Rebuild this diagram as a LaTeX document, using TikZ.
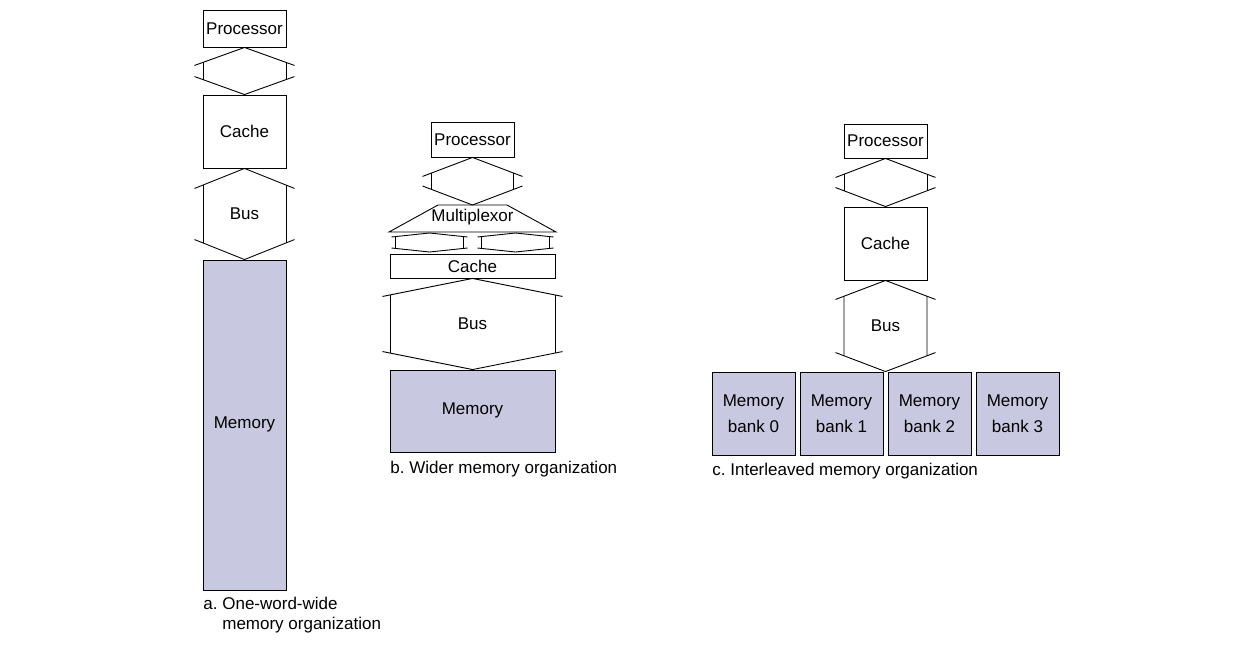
\documentclass[tikz,border=0pt]{standalone}
\usepackage{fontspec}
\setmainfont{Liberation Sans}
\usepackage{tikz}
\usetikzlibrary{calc}

\definecolor{memfill}{RGB}{200,200,225}

% wide double arrow: #1 top tip, #2 bottom tip, #3 half width, #4 half shaft, #5 drop
\newcommand{\busarrow}[5]{%
	\draw ($(#1)+(-#3,#5)$) -- (#1) -- ($(#1)+(#3,#5)$);
	\draw ($(#2)+(-#3,-#5)$) -- (#2) -- ($(#2)+(#3,-#5)$);
	\draw ($(#1)+({-#4},{#5*#4/#3})$) -- ($(#2)+({-#4},{-#5*#4/#3})$);
	\draw ($(#1)+({#4},{#5*#4/#3})$) -- ($(#2)+({#4},{-#5*#4/#3})$);
}

\begin{document}
\frenchspacing
\begin{tikzpicture}[x=1pt,y=-1pt,line width=0.9pt,
		font=\fontsize{17}{20}\selectfont,
		box/.style={draw, inner sep=0pt, minimum width=83pt, align=center},
		mem/.style={box, fill=memfill},
		caption/.style={inner sep=0pt, align=left}]
			\useasboundingbox (0,0) rectangle (1242,654);

			% ONE-WORD-WIDE
			\node[box, minimum height=37pt] (procA) at (244.5,28.5) {Processor};
			\node[box, minimum height=73pt] (cacheA) at (244.5,131.5) {Cache};
			\node[mem, minimum height=330pt, text depth=4pt] (memA) at (244.5,425) {Memory};
			\busarrow{procA.south}{cacheA.north}{50}{41.5}{18}
			\busarrow{cacheA.south}{memA.north}{50}{41.5}{20}
			\node at (244.5,214) {Bus};
			\node[caption, anchor=west] (capA) at (203,615) {a. One-word-wide\\\phantom{a.\ }memory organization};

			% WIDER
			\node[box, minimum height=35pt] (procB) at (472.5,139.5) {Processor};
			\node (muxB) at (472.5,217.5) {Multiplexor};
			\coordinate (muxtop) at (472.5,205);
			\draw (438,205) -- (507,205) -- (556,232) -- (389,232) -- cycle;
			\busarrow{procB.south}{muxtop}{50}{41}{19}
			\busarrow{429.5,233}{429.5,252}{38}{34}{4}
			\busarrow{515.5,233}{515.5,252}{38}{34}{4}
			\node[box, minimum width=165pt, minimum height=24pt] (cacheB) at (472.5,266) {Cache};
			\node[mem, minimum width=165pt, minimum height=82pt, text depth=4pt] (memB) at (472.5,411) {Memory};
			\busarrow{cacheB.south}{memB.north}{90}{82.5}{18}
			\node at (472.5,324) {Bus};
			\node[caption, anchor=west] (capB) at (390,469.5) {b. Wider memory organization};

			% INTERLEAVED
			\node[box, minimum height=34pt] (procC) at (885.5,141) {Processor};
			\node[box, minimum height=73pt] (cacheC) at (885.5,243.5) {Cache};
			\foreach \i in {0,1,2,3} {
				\node[mem, minimum height=83pt] (bank\i) at (753.5+88*\i,413.5) {Memory\\[6pt]bank \i};
			}
			\coordinate (busCend) at ($(bank1.north east)!0.5!(bank2.north west)$);
			\busarrow{procC.south}{cacheC.north}{50}{41.5}{19}
			\busarrow{cacheC.south}{busCend}{50}{41.5}{19}
			\node at (885.5,326) {Bus};
			\node[caption, anchor=west] (capC) at (712,471.5) {c. Interleaved memory organization};
		\end{tikzpicture}
\end{document}
